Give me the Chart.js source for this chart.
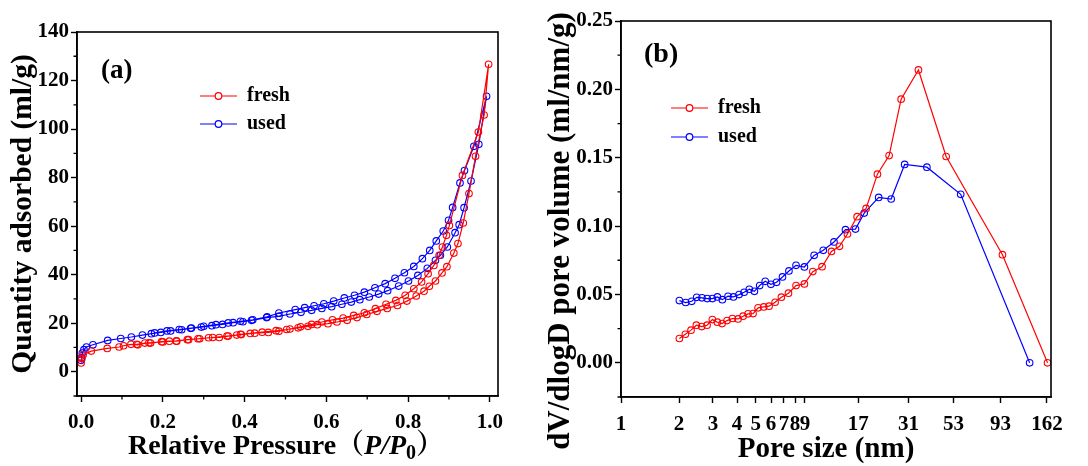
<!DOCTYPE html>
<html>
<head>
<meta charset="utf-8">
<script src="https://cdn.jsdelivr.net/npm/chart.js@4"></script>
<style>
  html, body { margin:0; padding:0; background:#fff; }
  .box { position:absolute; top:0; }
</style>
</head>
<body>
<div class="box" style="left:0;width:540px;height:466px"><canvas id="c1" width="540" height="466"></canvas></div>
<div class="box" style="left:540px;width:548px;height:466px"><canvas id="c2" width="548" height="466"></canvas></div>
<script>
// ---------- data: (a) N2 isotherms (adsorption branch followed by desorption branch) ----------
const freshP = [0.0,0.002,0.005,0.025,0.064,0.093,0.104,0.122,0.139,0.156,0.170,0.197,0.216,0.234,0.260,0.286,0.312,0.338,0.360,0.381,0.390,0.414,0.443,0.477,0.503,0.531,0.555,0.578,0.604,0.626,0.651,0.675,0.699,0.724,0.749,0.774,0.797,0.820,0.839,0.852,0.867,0.883,0.895,0.912,0.922,0.935,0.949,0.965,0.986,0.997,
  0.972,0.933,0.901,0.894,0.884,0.876,0.863,0.849,0.833,0.814,0.793,0.770,0.746,0.720,0.693,0.667,0.641,0.615,0.589,0.564,0.537,0.511,0.484,0.458,0.425,0.392,0.357,0.322,0.290,0.263,0.233,0.200,0.166,0.136];
const freshQ = [3.6,5.5,7.0,8.5,9.6,10.2,10.7,11.3,11.1,11.8,11.8,12.4,12.6,12.6,13.2,13.6,14.0,14.1,14.7,15.1,15.4,15.8,16.3,16.9,17.4,18.1,18.7,19.4,19.8,20.5,21.2,22.3,23.6,24.9,26.1,27.3,29.1,31.2,33.2,35.2,37.4,40.7,43.3,48.9,52.8,61.3,73.4,88.8,105.8,126.7,
  98.8,80.9,60.3,56.2,51.4,48.0,43.8,40.4,37.0,34.2,31.5,29.4,27.8,26.0,24.3,23.2,22.1,21.4,20.5,19.5,18.5,17.6,16.7,16.2,15.9,15.3,14.7,14.1,13.6,13.2,12.7,12.3,11.9,11.3];
const usedP = [0.0,0.001,0.003,0.007,0.013,0.029,0.065,0.097,0.123,0.150,0.172,0.195,0.219,0.246,0.268,0.294,0.320,0.346,0.372,0.396,0.417,0.454,0.484,0.511,0.538,0.564,0.589,0.613,0.638,0.661,0.682,0.705,0.728,0.750,0.777,0.801,0.824,0.847,0.867,0.879,0.896,0.915,0.925,0.937,0.954,0.973,0.992,
  0.961,0.938,0.927,0.909,0.899,0.886,0.869,0.853,0.835,0.814,0.791,0.768,0.744,0.719,0.693,0.669,0.644,0.618,0.594,0.570,0.547,0.524,0.484,0.455,0.420,0.390,0.360,0.330,0.300,0.270,0.240,0.210,0.180];
const usedQ = [4.7,5.8,7.7,9.1,10.2,11.1,12.9,13.7,14.3,15.1,15.7,16.2,16.8,17.3,17.9,18.4,19.0,19.5,20.2,20.6,21.2,22.3,22.8,23.8,24.5,25.3,26.1,26.8,27.8,28.7,29.7,30.8,32.0,33.4,35.3,37.4,39.7,42.6,45.9,48.0,51.4,57.3,60.6,67.6,78.6,93.7,113.5,
  92.9,82.9,77.8,67.7,62.4,58.0,53.9,50.0,46.6,43.4,40.8,38.5,36.3,34.6,32.8,31.5,30.4,29.1,28.0,27.2,26.4,25.6,24.2,22.6,21.4,20.8,20.1,19.4,18.7,18.0,17.4,16.8,16.0];

// ---------- data: (b) pore size distribution ----------
const freshD = [2.008,2.157,2.308,2.46,2.622,2.795,2.978,3.162,3.344,3.549,3.783,4.048,4.297,4.561,4.842,5.14,5.5,5.86,6.3,6.79,7.39,8.09,8.94,9.88,11.04,12.35,13.59,14.95,16.78,18.68,21.38,24.59,28.38,34.9,48.6,95.2,163.1];
const freshV = [0.0178,0.0209,0.0239,0.0275,0.0265,0.0275,0.0316,0.0297,0.0287,0.0309,0.0324,0.0321,0.0341,0.0358,0.0360,0.0402,0.0409,0.0414,0.0443,0.0480,0.0509,0.0565,0.0577,0.0667,0.0703,0.0815,0.0852,0.0942,0.1069,0.1129,0.1380,0.1516,0.1928,0.2142,0.1509,0.0791,0.0];
const usedD = [2.008,2.165,2.327,2.47,2.63,2.8,2.978,3.162,3.355,3.59,3.83,4.096,4.35,4.63,4.92,5.24,5.6,5.99,6.41,6.88,7.43,8.09,8.94,10.04,11.2,12.73,14.6,16.45,18.26,21.7,25.2,29.6,38.6,57.8,131.7];
const usedV = [0.0455,0.0441,0.0450,0.0479,0.0475,0.0470,0.0470,0.0482,0.0462,0.0487,0.0482,0.0499,0.0516,0.0538,0.0523,0.0565,0.0596,0.0574,0.0589,0.0628,0.0672,0.0713,0.0701,0.0786,0.0823,0.0884,0.0974,0.0978,0.1095,0.1210,0.1198,0.1451,0.1431,0.1232,0.0];

// ---------- ticks ----------
const aXTicks = [0.0,0.2,0.4,0.6,0.8,1.0];
const aXMinor = [0.1,0.3,0.5,0.7,0.9];
const aYTicks = [0,20,40,60,80,100,120,140];
const aYMinor = [-10,10,30,50,70,90,110,130];
const bXTicks = [1,2,3,4,5,6,7,8,9,17,31,53,93,162];
const bYTicks = [0.00,0.05,0.10,0.15,0.20,0.25];
const bYMinor = [-0.025,0.025,0.075,0.125,0.175,0.225];

const seriesNames = ['fresh','used'];
const RED = '#ff0000', BLUE = '#0000ff';
const SERIF = '"Liberation Serif","Times New Roman","Noto Serif CJK SC","Noto Sans CJK SC",serif';

const zip = (xs, ys) => xs.map((x,i)=>({x:x, y:ys[i]}));

function ds(label, data, color){
  return {label, data, borderColor:color, backgroundColor:color, borderWidth:1.2,
    showLine:true, tension:0, pointRadius:3.3, pointHoverRadius:3.3, pointBorderWidth:1.1,
    pointBackgroundColor:'rgba(255,255,255,0)', pointBorderColor:color};
}

function framePlugin(cfg){
  return {
    id:'frame'+cfg.id,
    afterDraw(chart){
      const ctx = chart.ctx, a = chart.chartArea;
      const xs = chart.scales.x, ys = chart.scales.y;
      ctx.save();
      ctx.strokeStyle = '#000'; ctx.lineWidth = 1.6;
      ctx.strokeRect(a.left, a.top, a.right-a.left, a.bottom-a.top);
      // minor ticks
      ctx.lineWidth = 1.3;
      ctx.beginPath();
      (cfg.xMinor||[]).forEach(v=>{ const p = xs.getPixelForValue(v); ctx.moveTo(p, a.bottom); ctx.lineTo(p, a.bottom+3.5); });
      (cfg.yMinor||[]).forEach(v=>{ const p = ys.getPixelForValue(v); ctx.moveTo(a.left, p); ctx.lineTo(a.left-3.5, p); });
      ctx.stroke();
      // panel label
      ctx.fillStyle = '#000';
      ctx.font = 'bold ' + cfg.tagSize + 'px ' + SERIF;
      ctx.textBaseline = 'middle'; ctx.textAlign = 'left';
      ctx.fillText(cfg.tag, cfg.tagX, cfg.tagY);
      // legend
      ctx.font = 'bold 20px ' + SERIF;
      chart.data.datasets.forEach((d,i)=>{
        const y = cfg.legY + i*cfg.legDy;
        ctx.strokeStyle = d.borderColor; ctx.lineWidth = 1.2;
        ctx.beginPath(); ctx.moveTo(cfg.legX, y); ctx.lineTo(cfg.legX+37, y); ctx.stroke();
        ctx.beginPath(); ctx.arc(cfg.legX+18.5, y, 3.3, 0, Math.PI*2); ctx.fillStyle='#fff'; ctx.fill(); ctx.stroke();
        ctx.fillStyle = '#000';
        ctx.fillText(d.label, cfg.legX+47, y);
      });
      // y title
      ctx.save();
      ctx.translate(cfg.yTitleX, cfg.yTitleY);
      ctx.rotate(-Math.PI/2);
      ctx.font = 'bold ' + cfg.yTitleSize + 'px ' + SERIF;
      ctx.textAlign = 'center'; ctx.textBaseline = 'middle';
      ctx.fillText(cfg.yTitle, 0, 0);
      ctx.restore();
      // x title (rich segments)
      const segs = cfg.xTitle;
      let total = 0;
      segs.forEach(s=>{ ctx.font = s.font; s.w = ctx.measureText(s.t).width; total += s.w; });
      let x = cfg.xTitleX - total/2;
      ctx.textAlign = 'left'; ctx.textBaseline = 'middle';
      segs.forEach(s=>{ ctx.font = s.font; ctx.fillText(s.t, x, cfg.xTitleY + (s.dy||0)); x += s.w; });
      ctx.restore();
    }
  };
}

function axisCommon(){
  return {
    border:{display:true, color:'#000', width:1.6},
    grid:{display:true, drawOnChartArea:false, drawTicks:true, tickLength:6, tickWidth:1.4, tickColor:'#000', color:'#000'},
  };
}

// ---------- chart (a) ----------
const tf = 'bold 28px ' + SERIF;
const ti = 'bold italic 28px ' + SERIF;
new Chart(document.getElementById('c1'), {
  type:'scatter',
  data:{datasets:[ds(seriesNames[0], zip(freshP,freshQ), RED), ds(seriesNames[1], zip(usedP,usedQ), BLUE)]},
  options:{
    responsive:false, animation:false, devicePixelRatio:1,
    layout:{padding:{left:0, top:32, right:42, bottom:0}},
    plugins:{legend:{display:false}, tooltip:{enabled:false}},
    scales:{
      x:Object.assign(axisCommon(), {type:'linear', min:-0.01, max:1.02,
        afterBuildTicks:(s)=>{ s.ticks = aXTicks.map(v=>({value:v})); },
        afterFit:(s)=>{ s.height = 70; },
        ticks:{color:'#000', padding:8, maxRotation:0, autoSkip:false, font:{family:SERIF, size:21, weight:'bold'},
          callback:(v)=>Number(v).toFixed(1)}}),
      y:Object.assign(axisCommon(), {type:'linear', min:-10, max:140,
        afterBuildTicks:(s)=>{ s.ticks = aYTicks.map(v=>({value:v})); },
        afterFit:(s)=>{ s.width = 77; },
        ticks:{color:'#000', padding:2, autoSkip:false, font:{family:SERIF, size:21, weight:'bold'},
          callback:(v)=>String(v)}})
    }
  },
  plugins:[framePlugin({id:'a', xMinor:aXMinor, yMinor:aYMinor, tag:'(a)', tagSize:27, tagX:101, tagY:71,
    legX:200, legY:96, legDy:28,
    yTitle:'Quantity adsorbed (ml/g)', yTitleX:23, yTitleY:214, yTitleSize:29.5,
    xTitle:[{t:'Relative Pressure\uFF08', font:tf},{t:'P', font:ti},{t:'/', font:ti},{t:'P', font:ti},{t:'0', font:'bold 20px '+SERIF, dy:7},{t:'\uFF09', font:tf}],
    xTitleX:286, xTitleY:447})]
});

// ---------- chart (b) ----------
new Chart(document.getElementById('c2'), {
  type:'scatter',
  data:{datasets:[ds(seriesNames[0], zip(freshD,freshV), RED), ds(seriesNames[1], zip(usedD,usedV), BLUE)]},
  options:{
    responsive:false, animation:false, devicePixelRatio:1,
    layout:{padding:{left:0, top:21, right:37, bottom:0}},
    plugins:{legend:{display:false}, tooltip:{enabled:false}},
    scales:{
      x:Object.assign(axisCommon(), {type:'logarithmic', min:1, max:170,
        afterBuildTicks:(s)=>{ s.ticks = bXTicks.map(v=>({value:v, major:true})); },
        afterFit:(s)=>{ s.height = 69; },
        ticks:{color:'#000', padding:9, maxRotation:0, autoSkip:false, font:{family:SERIF, size:21, weight:'bold'},
          callback:(v)=>String(v)}}),
      y:Object.assign(axisCommon(), {type:'linear', min:-0.025, max:0.25,
        afterBuildTicks:(s)=>{ s.ticks = bYTicks.map(v=>({value:v})); },
        afterFit:(s)=>{ s.width = 81; },
        ticks:{color:'#000', padding:2, autoSkip:false, font:{family:SERIF, size:21, weight:'bold'},
          callback:(v)=>Number(v).toFixed(2)}})
    }
  },
  plugins:[framePlugin({id:'b', xMinor:[], yMinor:bYMinor, tag:'(b)', tagSize:28, tagX:104, tagY:55,
    legX:131, legY:108, legDy:29,
    yTitle:'dV/dlogD pore volume (ml/nm/g)', yTitleX:21, yTitleY:231, yTitleSize:31,
    xTitle:[{t:'Pore size (nm)', font:'bold 29px '+SERIF}],
    xTitleX:286, xTitleY:450})]
});
</script>
</body>
</html>
